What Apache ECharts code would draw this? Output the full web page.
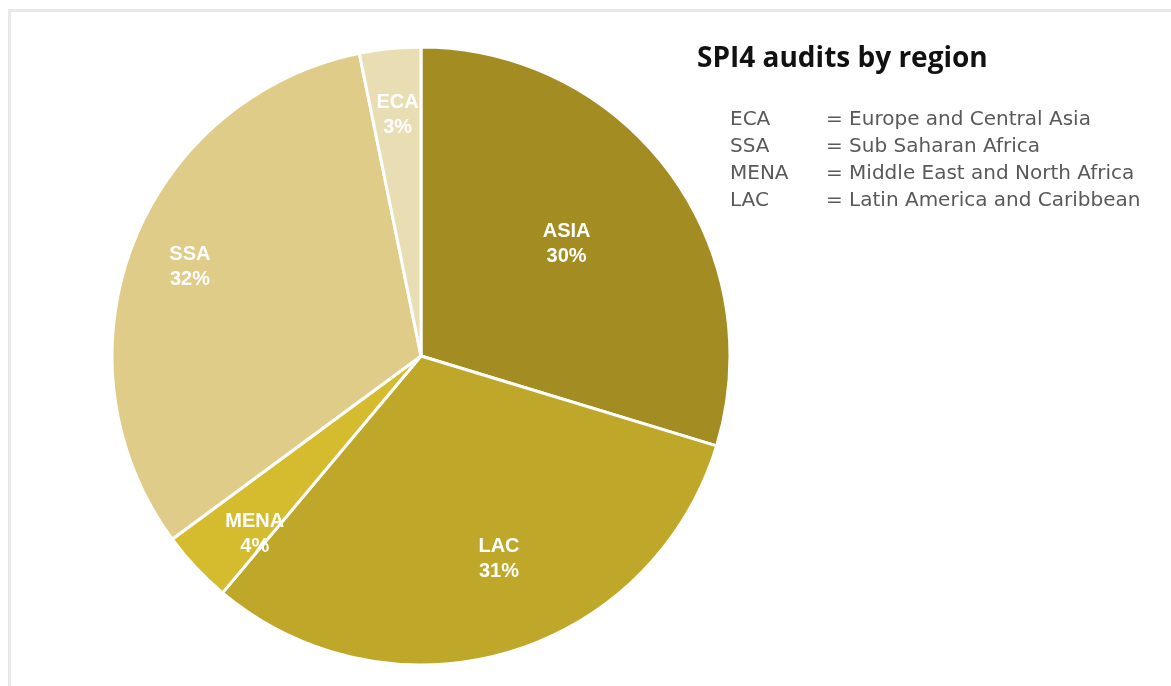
<!DOCTYPE html>
<html>
<head>
<meta charset="utf-8">
<script src="https://cdn.jsdelivr.net/npm/echarts@6/dist/echarts.min.js"></script>
<style>
  html, body { margin: 0; padding: 0; background: #fff; overflow: hidden; }
  #frame { position: absolute; left: 8px; top: 9px; width: 1300px; height: 800px; border: 3px solid #e9e9e9; }
  #chart { position: absolute; left: 0; top: 0; width: 1171px; height: 686px; }
</style>
</head>
<body>
<div id="frame"></div>
<div id="chart"></div>
<script>
// slice order clockwise from 12 o'clock
const regions = ['ASIA', 'LAC', 'MENA', 'SSA', 'ECA'];
const shares = [29.7, 31.4, 3.8, 31.9, 3.2];
const sliceColors = ['#a38c22', '#bfa72a', '#d5bc2e', '#e0cc89', '#e9ddb4'];
// label spot per slice: angle (deg clockwise from top) and fraction of radius
const labelAngle = [52, 158.7, 223.3, 291.5, 354.5];
const labelRadius = [0.588, 0.687, 0.774, 0.794, 0.78];

const keyAbbr = ['ECA', 'SSA', 'MENA', 'LAC'];
const keyNames = ['= Europe and Central Asia', '= Sub Saharan Africa', '= Middle East and North Africa', '= Latin America and Caribbean'];

document.addEventListener('DOMContentLoaded', function() {
  const chart = echarts.init(document.getElementById('chart'));
  const R = 309;
  const total = shares.reduce((a, b) => a + b, 0);

  let acc = 0;
  const data = regions.map(function(name, i) {
    // default inside spot is half radius on the slice's mid angle
    const mid = (acc + shares[i] / 2) / total * Math.PI * 2;
    acc += shares[i];
    const a = labelAngle[i] * Math.PI / 180;
    const r = labelRadius[i] * R;
    const dx = r * Math.sin(a) - R / 2 * Math.sin(mid);
    const dy = -r * Math.cos(a) + R / 2 * Math.cos(mid) + 2;
    return {
      name: name,
      value: shares[i],
      itemStyle: { color: sliceColors[i] },
      label: { offset: [dx, dy] }
    };
  });

  const keyStyle = { fontFamily: 'DejaVu Sans', fontWeight: 'normal', fontSize: 20, lineHeight: 20, color: '#595959' };
  const titles = [{
    text: 'SPI4 audits by region',
    left: 697, top: 45, padding: 0,
    textStyle: { fontFamily: 'Open Sans', fontWeight: 'bold', fontSize: 28, lineHeight: 28, color: '#111' }
  }];
  keyAbbr.forEach(function(abbr, i) {
    titles.push({ text: abbr, left: 730, top: 110 + i * 27, padding: 0, textStyle: keyStyle });
    titles.push({ text: keyNames[i], left: 826, top: 110 + i * 27, padding: 0, textStyle: keyStyle });
  });

  const option = {
    animation: false,
    title: titles,
    series: [{
      type: 'pie',
      center: [421, 356],
      radius: [0, R],
      startAngle: 90,
      clockwise: true,
      percentPrecision: 0,
      itemStyle: { borderColor: '#fff', borderWidth: 3 },
      label: {
        show: true,
        position: 'inside',
        formatter: '{b}\n{d}%',
        color: '#fff',
        fontFamily: 'Liberation Sans',
        fontWeight: 'bold',
        fontSize: 20,
        lineHeight: 25
      },
      labelLine: { show: false },
      emphasis: { disabled: true },
      data: data
    }]
  };
  chart.setOption(option);
});
</script>
</body>
</html>
